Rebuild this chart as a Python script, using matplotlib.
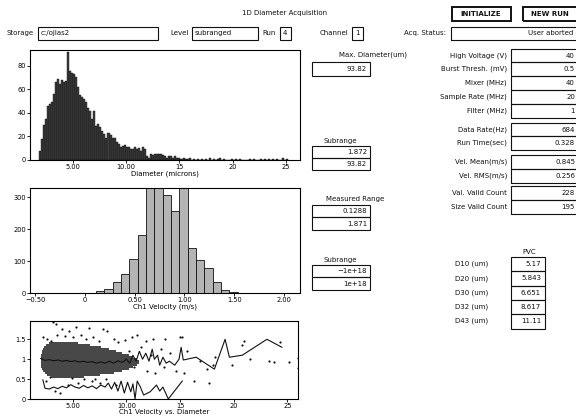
import numpy as np
import matplotlib
matplotlib.use("Agg")
import matplotlib.pyplot as plt
from matplotlib.patches import Rectangle

plt.rcParams['font.family'] = ['DejaVu Sans']
plt.rcParams['font.size'] = 5

W, H = 576, 419

# ---------- data ----------
# diameter histogram (bin width 0.19 um starting at 1.8 um)
diam_start, diam_width = 1.8, 0.19
diam_counts = [8, 18, 30, 35, 46, 48, 49, 56, 66, 69, 65, 68, 66, 67, 92, 76, 74, 73, 71, 62,
               55, 54, 52, 49, 44, 42, 35, 42, 29, 31, 28, 25, 22, 19, 23, 21, 19, 19, 15, 14,
               11, 12, 13, 11, 11, 9, 9, 11, 9, 10, 8, 11, 9, 3, 2, 5, 4, 5, 5, 5,
               5, 4, 3, 2, 3, 3, 2, 3, 2, 2, 1, 2, 1, 1, 2, 0, 1, 0, 1, 0,
               1, 0, 1, 0, 2, 0, 1, 0, 1, 2, 0, 1, 0, 0, 0, 1, 0, 1, 0, 1,
               0, 0, 0, 0, 1, 0, 1, 0, 0, 1, 0, 1, 0, 1, 0, 1, 0, 1, 0, 0,
               2, 0, 1]

# velocity histogram (bin width 0.0837 m/s)
vel_start, vel_width = 0.027, 0.0837
vel_counts = [1, 5, 13, 36, 60, 108, 182, 340, 340, 308, 258, 340, 140, 104, 78, 33, 10, 3, 1, 1]

# velocity vs diameter: dense rows of points (velocity, from d, to d)
band_vel = [0.55, 0.60, 0.65, 0.70, 0.75, 0.80, 0.85, 0.90, 0.95, 1.00, 1.05, 1.10, 1.15,
            1.20, 1.25, 1.30, 1.35, 1.40]
band_d0 = [3.0, 2.6, 2.4, 2.2, 2.1, 2.0, 2.0, 2.0, 2.0, 2.0, 2.0, 2.0, 2.1, 2.1, 2.2, 2.3,
           2.5, 2.8]
band_d1 = [6.0, 7.5, 8.8, 9.6, 10.2, 10.6, 11.0, 11.2, 11.2, 11.0, 10.6, 10.2, 9.6, 9.0, 8.4,
           7.6, 6.6, 5.5]

scat_d = [3.1, 3.4, 4.0, 4.6, 5.3, 6.5, 7.8, 8.2, 2.2, 2.6, 3.0, 3.5, 4.3, 5.0, 5.8, 6.2, 6.9,
          7.4, 8.8, 9.2, 9.9, 10.5, 11.0, 11.8, 12.5, 13.6, 15.0, 15.2,
          2.5, 3.3, 3.8, 4.5, 5.5, 6.0, 6.8, 7.5, 8.1, 9.0, 2.9, 4.9, 7.1,
          10.2, 10.7, 11.4, 11.9, 12.3, 12.7, 13.2, 13.5, 14.1, 14.6, 15.4, 15.6,
          16.3, 16.9, 17.5, 17.7, 18.1, 18.3, 19.8, 20.8, 21.0, 21.5, 23.3, 23.8, 24.3,
          25.2, 26.0, 26.0]
scat_v = [1.93, 1.88, 1.75, 1.70, 1.80, 1.78, 1.75, 1.70, 1.55, 1.50, 1.45, 1.62, 1.58, 1.55,
          1.60, 1.50, 1.55, 1.45, 1.50, 1.42, 1.48, 1.55, 1.60, 1.45, 1.52, 1.50, 1.55, 1.55,
          0.45, 0.20, 0.15, 0.35, 0.40, 0.50, 0.45, 0.40, 0.50, 0.35, 0.55, 0.52, 0.50,
          1.20, 0.80, 1.30, 0.70, 1.10, 0.65, 1.25, 0.80, 1.15, 0.70, 0.65, 1.20,
          0.45, 0.95, 0.75, 0.40, 0.85, 1.05, 0.85, 1.35, 1.45, 1.00, 0.95, 0.92, 1.42,
          0.92, 1.03, 0.78]

mean_d = [2.0, 2.4, 2.8, 3.2, 3.6, 4.0, 4.4, 4.8, 5.2, 5.6, 6.0, 6.4, 6.8, 7.2, 7.6, 8.0, 8.4,
          8.8, 9.2, 9.6, 10.0, 10.3, 10.6, 10.9, 11.2, 11.5, 11.8, 12.1, 12.4, 12.6, 12.9,
          13.1, 13.4, 13.7, 14.0, 14.5, 14.9, 15.1, 15.3, 16.5, 18.2, 19.2, 19.6, 20.8,
          23.1, 24.5]
mean_v = [1.02, 0.97, 0.99, 0.96, 0.98, 0.95, 0.97, 0.94, 0.96, 0.93, 0.95, 0.92, 0.94, 0.90,
          0.93, 0.90, 0.95, 0.90, 0.96, 0.92, 1.00, 0.90, 1.10, 0.95, 1.20, 1.00, 1.15, 0.95,
          1.25, 1.00, 1.10, 0.85, 1.05, 0.90, 0.95, 0.85, 1.00, 1.30, 0.98, 1.05, 0.75,
          1.50, 1.05, 1.10, 1.50, 1.30]

rms_d = [2.2, 2.4, 2.8, 3.2, 3.6, 4.0, 4.4, 4.8, 5.2, 5.6, 6.0, 6.4, 6.8, 7.2, 7.6, 8.0, 8.3,
         8.6, 8.9, 9.2, 9.5, 9.8, 10.1, 10.4, 10.6, 10.8, 11.0, 11.3, 11.6, 12.2, 12.8, 13.1,
         13.4, 13.9, 15.2]
rms_v = [0.48, 0.27, 0.25, 0.30, 0.26, 0.32, 0.28, 0.36, 0.30, 0.27, 0.34, 0.28, 0.33, 0.26,
         0.35, 0.30, 0.40, 0.25, 0.42, 0.20, 0.45, 0.15, 0.42, 0.18, 0.38, 0.00, 0.45, 0.30,
         0.10, 0.18, 0.35, 0.20, 0.30, 0.00, 0.45]

# panel texts
top_fields = [("Storage", "c:/ojlas2"), ("Level", "subranged"), ("Run", "4"), ("Channel", "1")]
right_labels = ["High Voltage (V)", "Burst Thresh. (mV)", "Mixer (MHz)", "Sample Rate (MHz)",
                "Filter (MHz)", "Data Rate(Hz)", "Run Time(sec)", "Vel. Mean(m/s)",
                "Vel. RMS(m/s)", "Val. Valid Count", "Size Valid Count"]
right_values = ["40", "0.5", "40", "20", "1", "684", "0.328", "0.845", "0.256", "228", "195"]
pvc_labels = ["D10 (um)", "D20 (um)", "D30 (um)", "D32 (um)", "D43 (um)"]
pvc_values = ["5.17", "5.843", "6.651", "8.617", "11.11"]


# ---------- helpers (pixel coords, origin top-left) ----------
def fx(x): return x / W
def fy(y): return 1 - y / H

def box(fig, x0, y0, x1, y1, lw=0.8):
    fig.patches.append(Rectangle((fx(x0), fy(y1)), (x1 - x0) / W, (y1 - y0) / H,
                                 transform=fig.transFigure, fill=False, lw=lw,
                                 edgecolor='#111111'))

def txt(fig, x, y, s, ha='left', **kw):
    fig.text(fx(x), fy(y), s, ha=ha, va='center', color='#111111', **kw)

def add_ax(fig, x0, y0, x1, y1):
    ax = fig.add_axes([fx(x0), fy(y1), (x1 - x0) / W, (y1 - y0) / H])
    for s in ax.spines.values():
        s.set_linewidth(0.8)
    ax.tick_params(direction='out', length=2, width=0.6, pad=1, labelsize=4.8)
    return ax


fig = plt.figure(figsize=(5.76, 4.19), dpi=100)

# ---------- header ----------
txt(fig, 285, 13, "1D Diameter Acquisition", ha='center')
box(fig, 452, 7, 511, 21, lw=1.4)
txt(fig, 481, 14, "INITIALIZE", ha='center', fontweight='bold')
box(fig, 523, 7, 578, 21, lw=1.4)
txt(fig, 550, 14, "NEW RUN", ha='center', fontweight='bold')

field_pos = [(34, 38, 158), (189, 192, 258), (276, 280, 291), (348, 352, 363)]
for (lab, val), (lx, b0, b1) in zip(top_fields, field_pos):
    txt(fig, lx, 33, lab, ha='right')
    box(fig, b0, 27, b1, 40)
    txt(fig, b0 + 3, 33, val)
txt(fig, 446, 33, "Acq. Status:", ha='right')
box(fig, 451, 27, 580, 40)
txt(fig, 573, 33, "User aborted", ha='right')

# ---------- diameter histogram ----------
ax1 = add_ax(fig, 30, 50, 300, 160)
d_left = diam_start + diam_width * np.arange(len(diam_counts))
ax1.bar(d_left, diam_counts, width=diam_width, align='edge',
        color='#3c3c3c', edgecolor='#111111', linewidth=0.3)
ax1.set_xlim(1.0, 26.3)
ax1.set_ylim(0, 93.6)
ax1.set_xticks([5, 10, 15, 20, 25], ['5.00', '10.00', '15', '20', '25'])
ax1.set_yticks([0, 20, 40, 60, 80])
ax1.set_xlabel("Diameter (microns)", labelpad=0)

# ---------- velocity histogram ----------
ax2 = add_ax(fig, 30, 188, 300, 293)
v_left = vel_start + vel_width * np.arange(len(vel_counts))
ax2.bar(v_left, vel_counts, width=vel_width, align='edge',
        color='#b4b4b4', edgecolor='#111111', linewidth=0.6)
ax2.set_xlim(-0.55, 2.16)
ax2.set_ylim(0, 329)
ax2.set_xticks([-0.5, 0, 0.5, 1.0, 1.5, 2.0], ['\u22120.50', '0', '0.50', '1.00', '1.50', '2.00'])
ax2.set_yticks([0, 100, 200, 300])
ax2.set_xlabel("Ch1 Velocity (m/s)", labelpad=0)

# ---------- velocity vs diameter ----------
ax3 = add_ax(fig, 30, 321, 298, 399)
ax3.hlines(band_vel, band_d0, band_d1, colors='#111111', linewidth=1.1,
           capstyle='butt')
ax3.scatter(scat_d, scat_v, s=2.5, color='#111111', linewidths=0)
ax3.plot(mean_d, mean_v, color='#111111', lw=0.8)
ax3.plot(rms_d, rms_v, color='#111111', lw=0.8)
ax3.set_xlim(1.0, 26.0)
ax3.set_ylim(0, 1.96)
ax3.set_xticks([5, 10, 15, 20, 25], ['5.00', '10.00', '15', '20', '25'])
ax3.set_yticks([0, 0.5, 1, 1.5], ['0', '0.5', '1', '1.5'])
ax3.set_xlabel("Ch1 Velocity vs. Diameter", labelpad=0)

# ---------- middle column ----------
txt(fig, 373, 55, "Max. Diameter(um)", ha='center')
box(fig, 312, 62, 370, 76)
txt(fig, 367, 69, "93.82", ha='right')

txt(fig, 340, 141, "Subrange", ha='center')
box(fig, 312, 146, 370, 158); txt(fig, 367, 152, "1.872", ha='right')
box(fig, 312, 158, 370, 170); txt(fig, 367, 164, "93.82", ha='right')

txt(fig, 355, 199, "Measured Range", ha='center')
box(fig, 312, 205, 370, 217); txt(fig, 367, 211, "0.1288", ha='right')
box(fig, 312, 217, 370, 230); txt(fig, 367, 224, "1.871", ha='right')

txt(fig, 340, 260, "Subrange", ha='center')
box(fig, 312, 265, 370, 277); txt(fig, 367, 271, "\u22121e+18", ha='right')
box(fig, 312, 277, 370, 290); txt(fig, 367, 284, "1e+18", ha='right')

# ---------- right column ----------
right_rows = [(49, 62), (62, 76), (76, 90), (90, 104), (104, 118),
              (123, 136), (136, 150), (155, 169), (169, 183), (186, 200), (200, 214)]
for lab, val, (y0, y1) in zip(right_labels, right_values, right_rows):
    yc = (y0 + y1) / 2
    txt(fig, 507, yc, lab, ha='right')
    box(fig, 511, y0, 580, y1)
    txt(fig, 575, yc, val, ha='right')

txt(fig, 529, 252, "PVC", ha='center')
for i, (lab, val) in enumerate(zip(pvc_labels, pvc_values)):
    y0 = 257 + i * 14.3
    txt(fig, 455, y0 + 7, lab)
    box(fig, 511, y0, 545, y0 + 14.3)
    txt(fig, 541, y0 + 7, val, ha='right')

fig.savefig("out.png", dpi=100)
